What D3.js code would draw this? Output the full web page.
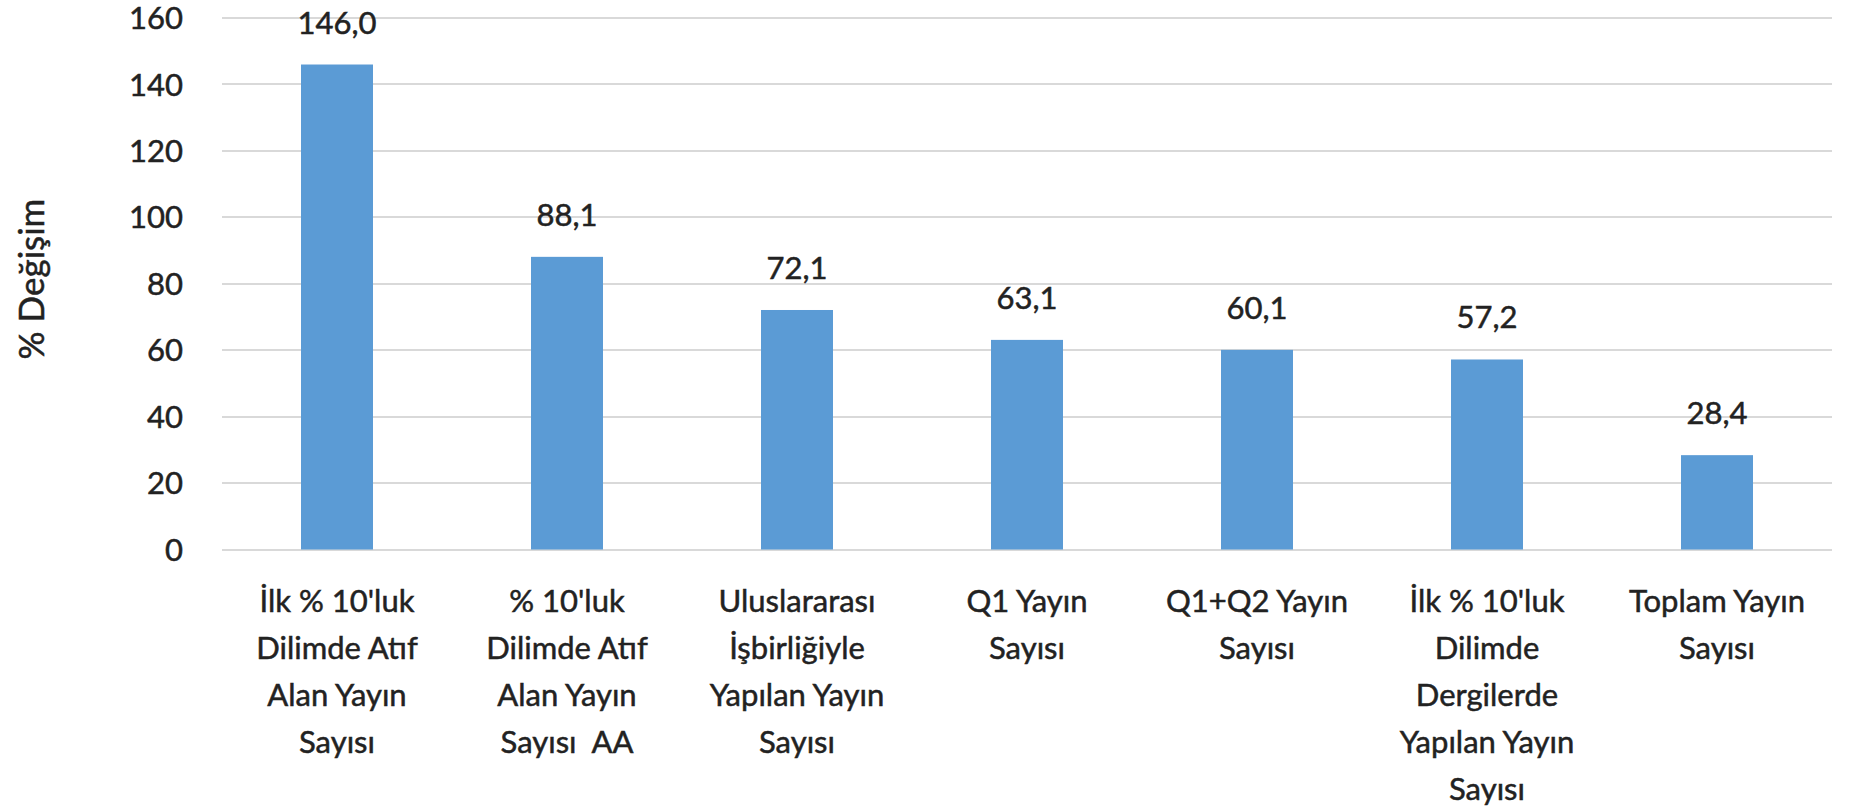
<!DOCTYPE html>
<html>
  <head>
    <meta charset="utf-8">
    <title>% Değişim</title>
    <script src="https://cdn.jsdelivr.net/npm/d3@7"></script>
    <style>
      body { margin: 0; background: #fff; }
      svg { display: block; font-family: Lato, "Open Sans", sans-serif; }
      .grid-line { stroke: #d9d9d9; stroke-width: 2; shape-rendering: crispEdges; }
      .bar { fill: #5b9bd5; }
      text { fill: #222; stroke: #222; stroke-width: 0.5px; }
      .tick-text { font-size: 31px; text-anchor: end; }
      .value-text { font-size: 31px; text-anchor: middle; }
      .cat-text { font-size: 31px; text-anchor: middle; }
      .axis-title { font-size: 35px; text-anchor: middle; }
    </style>
  </head>
  <body>
    <svg id="chart"></svg>
    <script>
    var categories = [
      ["İlk % 10'luk", "Dilimde Atıf", "Alan Yayın", "Sayısı"],
      ["% 10'luk", "Dilimde Atıf", "Alan Yayın", "Sayısı  AA"],
      ["Uluslararası", "İşbirliğiyle", "Yapılan Yayın", "Sayısı"],
      ["Q1 Yayın", "Sayısı"],
      ["Q1+Q2 Yayın", "Sayısı"],
      ["İlk % 10'luk", "Dilimde", "Dergilerde", "Yapılan Yayın", "Sayısı"],
      ["Toplam Yayın", "Sayısı"]
    ];
    var values = [146.0, 88.1, 72.1, 63.1, 60.1, 57.2, 28.4];
    var yTicks = [0, 20, 40, 60, 80, 100, 120, 140, 160];
    var yTitle = "% Değişim";

    var W = 1850, H = 812;
    var margin = {top: 18, right: 18, bottom: 262.5, left: 222};
    var width = W - margin.left - margin.right;
    var height = H - margin.top - margin.bottom;

    var trFormat = d3.formatLocale({decimal: ",", thousands: ".", grouping: [3], currency: ["", "₺"]}).format(".1f");

    var svg = d3.select("#chart")
      .attr("width", W)
      .attr("height", H);

    var g = svg.append("g")
      .attr("transform", "translate(" + margin.left + "," + margin.top + ")");

    var x = d3.scaleBand()
      .domain(d3.range(values.length))
      .range([0, width])
      .paddingInner(0.687)
      .paddingOuter(0.3435);

    var y = d3.scaleLinear()
      .domain([0, 160])
      .range([height, 0]);

    // grid lines + tick labels
    var ticks = g.append("g")
      .selectAll("g")
      .data(yTicks)
      .enter()
      .append("g")
      .attr("transform", function(d) { return "translate(0," + y(d) + ")"; });

    ticks.append("line")
      .attr("class", "grid-line")
      .attr("x1", 0)
      .attr("x2", width);

    ticks.append("text")
      .attr("class", "tick-text")
      .attr("x", -39)
      .attr("dy", "0.36em")
      .text(function(d) { return d; });

    // bars
    g.append("g")
      .selectAll("rect")
      .data(values)
      .enter()
      .append("rect")
      .attr("class", "bar")
      .attr("x", function(d, i) { return x(i); })
      .attr("width", x.bandwidth())
      .attr("y", function(d) { return y(d); })
      .attr("height", function(d) { return height - y(d); });

    // value labels
    g.append("g")
      .selectAll("text")
      .data(values)
      .enter()
      .append("text")
      .attr("class", "value-text")
      .attr("x", function(d, i) { return x(i) + x.bandwidth() / 2; })
      .attr("y", function(d) { return y(d) - 31; })
      .text(function(d) { return trFormat(d); });

    // category labels, one tspan per line
    var catText = g.append("g")
      .attr("transform", "translate(0," + height + ")")
      .selectAll("text")
      .data(categories)
      .enter()
      .append("text")
      .attr("class", "cat-text")
      .attr("x", function(d, i) { return x(i) + x.bandwidth() / 2; })
      .attr("y", 62.5);

    catText.selectAll("tspan")
      .data(function(d) { return d; })
      .enter()
      .append("tspan")
      .attr("x", function() { return d3.select(this.parentNode).attr("x"); })
      .attr("dy", function(d, i) { return i == 0 ? 0 : 47; })
      .style("white-space", "pre")
      .text(function(d) { return d; });

    // y axis title
    svg.append("text")
      .attr("class", "axis-title")
      .attr("transform", "translate(44," + 279 + ") rotate(-90)")
      .text(yTitle);
    </script>
  </body>
</html>
